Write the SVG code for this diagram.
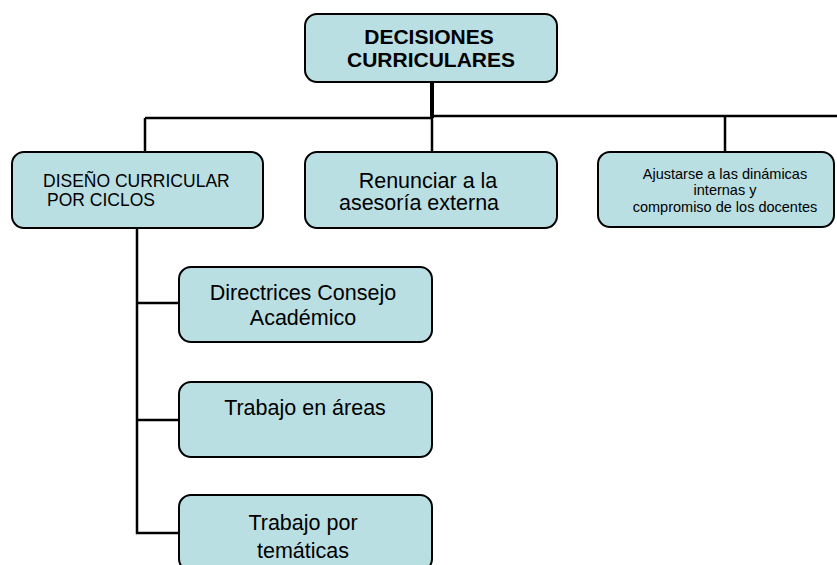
<svg xmlns="http://www.w3.org/2000/svg" width="837" height="565" viewBox="0 0 837 565">
<style>
.box{fill:#B9DFE3;stroke:#000;stroke-width:2}
.t{font-family:"Liberation Sans",Arial,sans-serif;fill:#000;text-anchor:middle}
.l{font-family:"Liberation Sans",Arial,sans-serif;fill:#000}
.big{font-size:21.5px}
.line{stroke:#000;stroke-width:2.5;fill:none}
</style>
<rect width="837" height="565" fill="#fff"/>
<g id="connectors">
<path class="line" d="M432 82 V118" style="stroke-width:4"/>
<path class="line" d="M145 118 H432"/>
<path class="line" d="M432 116 H837"/>
<path class="line" d="M145 118 V153"/>
<path class="line" d="M432 118 V152"/>
<path class="line" d="M725 116 V152"/>
<path class="line" d="M137 228 V533 H179"/>
<path class="line" d="M137 303 H179"/>
<path class="line" d="M137 420 H179"/>
</g>
<g id="n-decisiones">
<rect class="box" x="305" y="14" width="252" height="68" rx="12"/>
<text class="t" x="429" y="44" font-size="21" font-weight="bold">DECISIONES</text>
<text class="t" x="431" y="67" font-size="21" font-weight="bold">CURRICULARES</text>
</g>
<g id="n-diseno">
<rect class="box" x="12" y="152" width="251" height="76" rx="12"/>
<text class="l" x="43" y="187" font-size="17.5">DISEÑO CURRICULAR</text>
<text class="l" x="47" y="206" font-size="17.5">POR CICLOS</text>
</g>
<g id="n-renunciar">
<rect class="box" x="305" y="152" width="252" height="76" rx="12"/>
<text class="t big" x="428" y="188">Renunciar a la</text>
<text class="t big" x="419" y="210">asesoría externa</text>
</g>
<g id="n-ajustarse">
<rect class="box" x="598" y="152" width="236" height="75" rx="12"/>
<text class="t" x="725" y="179" font-size="14.5">Ajustarse a las dinámicas</text>
<text class="t" x="725" y="195" font-size="14.5">internas y</text>
<text class="t" x="725" y="212" font-size="14.5">compromiso de los docentes</text>
</g>
<g id="n-directrices">
<rect class="box" x="179" y="267" width="253" height="75" rx="12"/>
<text class="t big" x="303" y="300">Directrices Consejo</text>
<text class="t big" x="303" y="325">Académico</text>
</g>
<g id="n-areas">
<rect class="box" x="179" y="382" width="253" height="75" rx="12"/>
<text class="t big" x="305" y="415">Trabajo en áreas</text>
</g>
<g id="n-tematicas">
<rect class="box" x="179" y="495" width="253" height="76" rx="12"/>
<text class="t big" x="303" y="530">Trabajo por</text>
<text class="t big" x="303" y="558">temáticas</text>
</g>
</svg>
